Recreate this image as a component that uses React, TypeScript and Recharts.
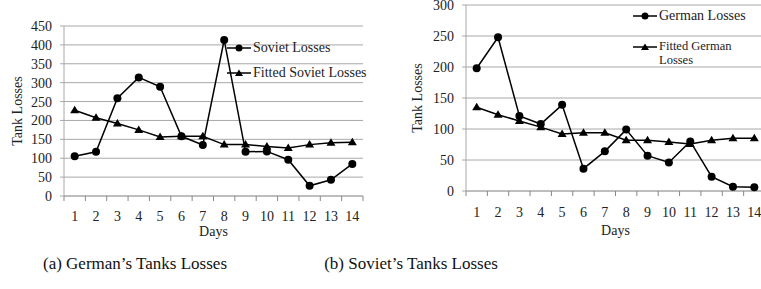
import React from "react";
import { LineChart, Line, XAxis, YAxis, CartesianGrid, Legend } from "recharts";

const days = ["1", "2", "3", "4", "5", "6", "7", "8", "9", "10", "11", "12", "13", "14"];

// panel (a)
const sovietLosses = [105, 117, 259, 314, 289, 158, 135, 413, 117, 118, 96, 27, 43, 85];
const fittedSovietLosses = [227, 207, 192, 175, 156, 158, 158, 136, 136, 131, 127, 136, 141, 142];
const sovietTicks = [0, 50, 100, 150, 200, 250, 300, 350, 400, 450];

// panel (b)
const germanLosses = [198, 248, 121, 108, 139, 36, 64, 99, 57, 46, 80, 23, 7, 6];
const fittedGermanLosses = [135, 123, 113, 103, 92, 94, 94, 82, 82, 79, 76, 82, 85, 85];
const germanTicks = [0, 50, 100, 150, 200, 250, 300];

const FONT = "Liberation Serif, DejaVu Serif, serif";
const GRID = "#a8a8a8";
const INK = "#222";

const sovietData = days.map((d, i) => ({ day: d, actual: sovietLosses[i], fitted: fittedSovietLosses[i] }));
const germanData = days.map((d, i) => ({ day: d, actual: germanLosses[i], fitted: fittedGermanLosses[i] }));

const Triangle = (props: any) => {
  const { cx, cy, index } = props;
  if (cx == null || cy == null) return <g key={index} />;
  return <path key={index} d={`M${cx},${cy - 4.5}L${cx + 4.5},${cy + 3}L${cx - 4.5},${cy + 3}Z`} fill="#000" />;
};

// day labels centred in each band, small tick marks on the band edges
const DayTick = (props: any) => {
  const { x, y, payload, index, half, baseline } = props;
  const axisY = Number(y) - 11; // tickSize + tickMargin
  const cx = Number(x);
  const last = index === days.length - 1;
  return (
    <g>
      <line x1={cx - half} y1={axisY} x2={cx - half} y2={axisY + 5} style={{ stroke: "#888", strokeWidth: 1 }} />
      {last && <line x1={cx + half} y1={axisY} x2={cx + half} y2={axisY + 5} style={{ stroke: "#888", strokeWidth: 1 }} />}
      <text x={cx} y={axisY + baseline} textAnchor="middle" fill={INK} fontSize={14} fontFamily={FONT}>
        {payload.value}
      </text>
    </g>
  );
};

const yLabel = (dx: number) => (props: any) => {
  const { viewBox } = props;
  const x = viewBox.x + dx;
  const y = viewBox.y + viewBox.height / 2;
  return (
    <text x={x} y={y} transform={`rotate(-90 ${x} ${y})`} textAnchor="middle" dominantBaseline="central"
      fill={INK} fontSize={14} fontFamily={FONT}>
      Tank Losses
    </text>
  );
};

type Row = { top: number; size: number; textWidth?: number };

const legendContent = (rows: Row[]) => (props: any) => {
  const items = [...props.payload].sort((a: any) => (a.dataKey === "actual" ? -1 : 1));
  return (
    <div style={{ position: "relative" }}>
      {items.map((item: any, i: number) => (
        <div key={item.value} style={{ position: "absolute", top: rows[i].top, left: 0, display: "flex", alignItems: "flex-start" }}>
          <svg width={24} height={10} style={{ marginTop: rows[i].size * 0.6 - 5, flexShrink: 0 }}>
            <line x1={0} y1={5} x2={24} y2={5} stroke="#000" strokeWidth={1.5} />
            {item.dataKey === "actual" ? (
              <circle cx={12} cy={5} r={3.5} fill="#000" />
            ) : (
              <path d="M12,1.5L16,8L8,8Z" fill="#000" />
            )}
          </svg>
          <span style={{ fontFamily: FONT, fontSize: rows[i].size, color: INK, lineHeight: `${rows[i].size * 1.15}px`,
            width: rows[i].textWidth, whiteSpace: rows[i].textWidth ? "normal" : "nowrap", marginLeft: 2 }}>
            {item.value}
          </span>
        </div>
      ))}
    </div>
  );
};

type PanelProps = {
  data: any[];
  ticks: number[];
  width: number;
  margin: { top: number; right: number; left: number; bottom: number };
  yWidth: number;
  xHeight: number;
  labelDx: number;
  tickBaseline: number;
  daysOffset: number;
  names: [string, string];
  legendPos: { left: number; top: number };
  legendRows: Row[];
};

const Panel = (p: PanelProps) => {
  const plotWidth = p.width - p.margin.left - p.margin.right - p.yWidth;
  const half = plotWidth / (2 * days.length);
  return (
    <LineChart width={p.width} height={240} data={p.data} margin={p.margin}>
      <CartesianGrid vertical={false} stroke={GRID} />
      <XAxis dataKey="day" scale="band" height={p.xHeight} stroke={GRID} tickLine={false} tickSize={5} tickMargin={6}
        interval={0} tick={(t: any) => <DayTick {...t} half={half} baseline={p.tickBaseline} />}
        label={{ value: "Days", position: "insideBottom", offset: p.daysOffset, fill: INK, fontSize: 14, fontFamily: FONT }} />
      <YAxis domain={[0, p.ticks[p.ticks.length - 1]]} ticks={p.ticks} interval={0} width={p.yWidth} stroke={GRID}
        tickSize={4} tickMargin={8} tick={{ fill: INK, fontSize: 14, fontFamily: FONT }} label={yLabel(p.labelDx)} />
      <Legend layout="horizontal" verticalAlign="middle" align="center"
        wrapperStyle={{ left: p.legendPos.left, top: p.legendPos.top, width: 160, height: 0 }}
        content={legendContent(p.legendRows)} />
      <Line dataKey="actual" name={p.names[0]} stroke="#000" strokeWidth={1.5} dot={{ r: 4, fill: "#000", stroke: "#000", strokeWidth: 0 }}
        isAnimationActive={false} />
      <Line dataKey="fitted" name={p.names[1]} stroke="#000" strokeWidth={1.5} dot={Triangle} isAnimationActive={false} />
    </LineChart>
  );
};

const App = () => {
  return (
    <div style={{ position: "absolute", left: 0, top: 0, width: 761, height: 289, overflow: "hidden", background: "#fff" }}>
      <div style={{ position: "absolute", left: 0, top: 0 }}>
        <Panel data={sovietData} ticks={sovietTicks} width={380} margin={{ top: 26, right: 17, left: 0, bottom: 0 }}
          yWidth={64} xHeight={44} labelDx={17} tickBaseline={25} daysOffset={4}
          names={["Soviet Losses", "Fitted Soviet Losses"]} legendPos={{ left: 227, top: 40 }}
          legendRows={[{ top: 0, size: 14 }, { top: 25, size: 14 }]} />
      </div>
      <div style={{ position: "absolute", left: 380, top: 0 }}>
        <Panel data={germanData} ticks={germanTicks} width={390} margin={{ top: 5, right: 5, left: 0, bottom: 0 }}
          yWidth={86} xHeight={49} labelDx={37} tickBaseline={26} daysOffset={5}
          names={["German Losses", "Fitted German Losses"]} legendPos={{ left: 253, top: 8 }}
          legendRows={[{ top: 0, size: 14 }, { top: 31, size: 12.5, textWidth: 80 }]} />
      </div>
      <div style={{ position: "absolute", left: 0, top: 254, width: 270, textAlign: "center", fontFamily: FONT, fontSize: 17, color: "#111" }}>
        (a) German’s Tanks Losses
      </div>
      <div style={{ position: "absolute", left: 276, top: 254, width: 270, textAlign: "center", fontFamily: FONT, fontSize: 17, color: "#111" }}>
        (b) Soviet’s Tanks Losses
      </div>
    </div>
  );
};

export default App;
